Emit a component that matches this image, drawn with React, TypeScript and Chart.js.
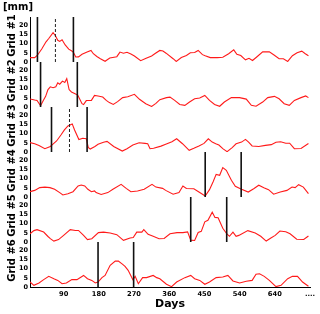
import React, { useEffect, useRef } from 'react';
import { Chart, registerables } from 'chart.js';

Chart.register(...registerables);

const FONT = "'DejaVu Sans', sans-serif";

const gridNames = ['Grid #1', 'Grid #2', 'Grid #3', 'Grid #4', 'Grid #5', 'Grid #6'];
const unitLabel = '[mm]';
const xTitle = 'Days';
const xTickValues = [90, 180, 270, 360, 450, 540, 630, 720];
const xTickLabels = ['90', '180', '270', '360', '450', '540', '640', '....'];
const yTickValues = [0, 5, 10, 15, 20];
const X_MIN = 4;
const X_MAX = 720;
const Y_MIN = 0;
const Y_MAX = 24.5;

const grid1Days = [4,16,23,34,45,52,63,69,75,80,86,94,103,111,115,121,128,137,150,160,166,175,184,196,208,226,234,243,252,262,271,287,301,315,324,336,344,352,370,378,391,404,414,425,434,445,452,465,483,497,512,525,533,543,555,564,573,583,599,616,628,641,652,663,675,687,699,708,716];
const grid1Values = [2.4,2.4,3.7,7.1,11,12.8,16.0,14.3,11.8,11.2,12.1,9.3,7.0,6.0,5.3,2.7,2.8,4.2,5.4,6.3,4.5,3.0,1.8,0.4,2.2,2.9,5.4,4.8,5.3,4.3,3.3,0.7,2.0,3.3,4.6,6.3,6.0,4.8,1.8,0.3,2.4,3.5,5.0,5.2,6.3,4.0,3.4,2.4,2.4,2.6,4.5,6.6,4.2,3.5,1.2,2.0,0.8,2.6,5.5,5.5,3.8,1.8,1.8,0.3,3.4,5.0,5.9,4.5,3.4];

const grid2Days = [4,16,22,31,38,44,50,56,63,70,75,80,87,93,98,104,110,118,126,132,137,141,148,161,169,178,190,199,207,217,228,241,254,271,284,300,315,326,336,353,362,374,387,400,412,425,438,451,463,476,489,501,519,540,557,570,582,599,612,629,641,654,667,680,697,709,716];
const grid2Values = [4.4,3.8,3.6,0.7,3.5,5.8,9.5,11.0,10.5,11.0,13.2,12.4,14.1,13.4,15.5,9.5,8.2,7.4,6.5,4.0,1.8,1.3,3.5,3.6,6.3,6.0,5.4,3.6,2.4,1.4,2.9,5.1,5.6,6.9,4.2,1.8,0.3,2.0,4.0,5.1,5.4,3.6,1.4,0.9,2.7,4.5,4.9,6.3,3.6,1.4,0.4,2.7,5.1,5.1,4.3,0.9,0.4,2.7,5.1,5.8,4.5,1.8,0.9,3.6,5.1,6.0,5.1];

const grid3Days = [4,16,27,42,56,62,72,84,92,101,112,118,129,139,148,153,158,170,178,192,201,218,240,252,267,283,298,305,311,320,339,351,367,379,394,411,423,436,449,460,470,479,487,497,508,521,531,545,555,563,572,589,606,621,633,645,658,668,680,697,716];
const grid3Values = [5.1,4.5,3.5,1.8,3.0,4.2,6.0,9.5,12.0,14.2,15.3,12.0,6.8,7.5,7.2,2.5,1.6,3.0,4.2,5.3,5.8,3.0,0.5,1.8,3.8,5.0,4.7,4.5,1.8,2.0,3.2,4.2,5.6,7.2,4.5,0.9,2.0,3.3,4.7,7.2,5.4,4.5,3.8,1.8,0.2,2.4,4.5,5.4,6.9,5.4,3.3,3.0,3.6,4.0,5.3,5.6,4.8,4.8,1.8,1.9,4.6];

const grid4Days = [4,16,29,42,55,67,80,88,101,114,127,135,144,152,161,169,173,186,203,216,237,250,262,279,296,316,326,343,351,370,385,395,404,423,437,452,463,472,480,489,497,506,519,529,542,562,576,589,602,614,627,644,661,674,682,691,703,716];
const grid4Values = [2.9,3.6,5.1,5.4,5.1,4.2,2.4,1.1,1.8,2.9,6.0,6.5,6.0,4.2,2.9,3.3,2.4,1.4,2.4,4.2,6.9,4.7,2.9,3.3,4.2,6.9,5.4,4.7,3.6,1.5,2.4,6.0,4.6,4.5,2.6,0.5,4.0,8.2,12.3,11.8,16.0,14.5,9.1,5.8,4.5,2.7,4.5,6.4,5.1,4.0,1.5,2.7,3.6,5.4,5.1,6.7,5.4,1.8];

const grid5Days = [4,14,22,39,50,56,65,77,90,107,120,128,141,151,162,179,192,209,226,243,260,268,277,290,295,306,319,334,347,362,380,395,407,415,425,434,442,451,459,470,477,485,497,507,514,523,531,538,561,580,594,608,620,631,643,658,669,686,704,716];
const grid5Values = [4.5,6.2,6.7,5.4,3.0,1.8,0.5,1.3,3.6,6.7,6.3,6.3,3.6,1.3,1.8,5.1,5.4,4.9,4.0,0.9,2.2,2.4,5.4,5.4,6.7,4.2,3.1,1.8,1.9,4.5,5.1,5.1,5.5,1.0,0.8,5.2,5.8,11.0,11.8,16.2,13.4,13.2,7.5,4.5,3.1,5.4,3.1,3.6,6.2,4.9,3.1,0.5,2.2,3.6,6.0,5.6,4.5,1.5,1.4,3.3];

const grid6Days = [4,14,27,39,52,65,75,86,97,111,124,141,151,162,171,178,188,196,209,222,230,241,247,255,267,273,281,292,302,319,328,336,353,366,379,400,415,425,438,451,463,480,497,510,523,540,557,572,582,591,603,616,633,646,663,675,688,701,716];
const grid6Values = [2.7,0.9,2.2,4.0,5.8,4.5,3.6,1.8,2.2,4.0,4.0,6.3,4.5,3.6,2.2,2.7,5.1,6.3,11.8,14.1,14.1,12.3,11.2,9.1,4.0,5.8,1.8,5.1,5.1,6.3,5.1,4.5,1.5,0.2,2.7,5.1,6.3,4.5,3.6,1.5,2.7,5.1,5.4,6.3,3.3,2.2,3.1,3.6,6.9,7.2,5.8,3.6,0.2,0.9,4.5,5.8,5.8,2.7,0.4];

const windowStart = [23, 31, 59, 452, 415, 178];
const windowMid = [69, null, 105, null, null, null];
const windowEnd = [115, 125, 150, 544, 507, 269];

const gridDays = [grid1Days, grid2Days, grid3Days, grid4Days, grid5Days, grid6Days];
const gridValues = [grid1Values, grid2Values, grid3Values, grid4Values, grid5Values, grid6Values];

const panelLabels = {
  id: 'panelLabels',
  afterDraw(chart: any) {
    const ctx = chart.ctx;
    ctx.save();
    ctx.fillStyle = '#000';
    ctx.font = `bold 10px ${FONT}`;
    ctx.textAlign = 'center';
    ctx.textBaseline = 'middle';
    gridNames.forEach((name, i) => {
      const s = chart.scales['y' + (i + 1)];
      const cy = (s.top + s.bottom) / 2 - 4;
      ctx.save();
      ctx.translate(12, cy);
      ctx.rotate(-Math.PI / 2);
      ctx.fillText(name, 0, 0);
      ctx.restore();
    });
    ctx.textAlign = 'left';
    ctx.fillText(unitLabel, 3, 7.5);
    ctx.restore();
  },
};

export default function App() {
  const ref = useRef<HTMLCanvasElement>(null);

  useEffect(() => {
    const canvas = ref.current;
    if (!canvas) return;
    Chart.defaults.font.family = FONT;
    Chart.defaults.color = '#000';

    const datasets: any[] = [];
    gridNames.forEach((_, i) => {
      const id = 'y' + (i + 1);
      datasets.push({
        data: gridDays[i].map((d, k) => ({ x: d, y: gridValues[i][k] })),
        yAxisID: id,
        xAxisID: 'x',
        borderColor: '#ff1a1a',
        borderWidth: 1.1,
        pointRadius: 0,
        tension: 0,
        order: 2,
      });
      [windowStart[i], windowEnd[i]].forEach((d) => {
        datasets.push({
          data: [{ x: d, y: Y_MIN }, { x: d, y: Y_MAX }],
          yAxisID: id,
          xAxisID: 'x',
          borderColor: '#111',
          borderWidth: 1.6,
          pointRadius: 0,
          order: 1,
        });
      });
      const m = windowMid[i];
      if (m != null) {
        datasets.push({
          data: [{ x: m, y: Y_MIN }, { x: m, y: Y_MAX }],
          yAxisID: id,
          xAxisID: 'x',
          borderColor: '#222',
          borderWidth: 1,
          borderDash: [3, 2],
          pointRadius: 0,
          order: 1,
        });
      }
    });

    const scales: any = {
      x: {
        type: 'linear',
        position: 'bottom',
        min: X_MIN,
        max: X_MAX,
        grid: { display: false, drawTicks: false },
        border: { display: true, color: '#000', width: 1 },
        afterBuildTicks: (s: any) => {
          s.ticks = xTickValues.map((v) => ({ value: v }));
        },
        ticks: {
          autoSkip: false,
          maxRotation: 0,
          padding: 3,
          color: '#000',
          font: { size: 6.7, weight: 'bold', family: FONT },
          callback: (v: any) => {
            const k = xTickValues.indexOf(Number(v));
            return k >= 0 ? xTickLabels[k] : '';
          },
        },
        title: {
          display: true,
          text: xTitle,
          color: '#000',
          font: { size: 11, weight: 'bold', family: FONT },
          padding: { top: 0, bottom: 3 },
        },
        afterFit: (s: any) => {
          s.height = 27;
        },
      },
    };
    for (let i = gridNames.length - 1; i >= 0; i--) {
      scales['y' + (i + 1)] = {
        type: 'linear',
        position: 'left',
        stack: 'grids',
        stackWeight: 1,
        min: Y_MIN,
        max: Y_MAX,
        grid: { display: false, drawTicks: false },
        border: { display: true, color: '#000', width: 1 },
        afterBuildTicks: (s: any) => {
          s.ticks = yTickValues.map((v) => ({ value: v }));
        },
        ticks: {
          autoSkip: false,
          padding: 2,
          color: '#000',
          font: { size: 6.5, weight: 'bold', family: FONT },
        },
        afterFit: (s: any) => {
          s.width = 30;
        },
      };
    }

    const chart = new Chart(canvas, {
      type: 'line',
      data: { datasets },
      options: {
        animation: false,
        responsive: false,
        maintainAspectRatio: false,
        layout: { padding: { top: 17, right: 10, left: 0, bottom: 0 } },
        plugins: {
          legend: { display: false },
          tooltip: { enabled: false },
        },
        scales,
      } as any,
      plugins: [panelLabels],
    });
    return () => chart.destroy();
  }, []);

  return (
    <div style={{ position: 'absolute', left: 0, top: 0, width: 320, height: 314, background: '#fff' }}>
      <canvas ref={ref} width={320} height={314} style={{ display: 'block', width: 320, height: 314 }} />
    </div>
  );
}
